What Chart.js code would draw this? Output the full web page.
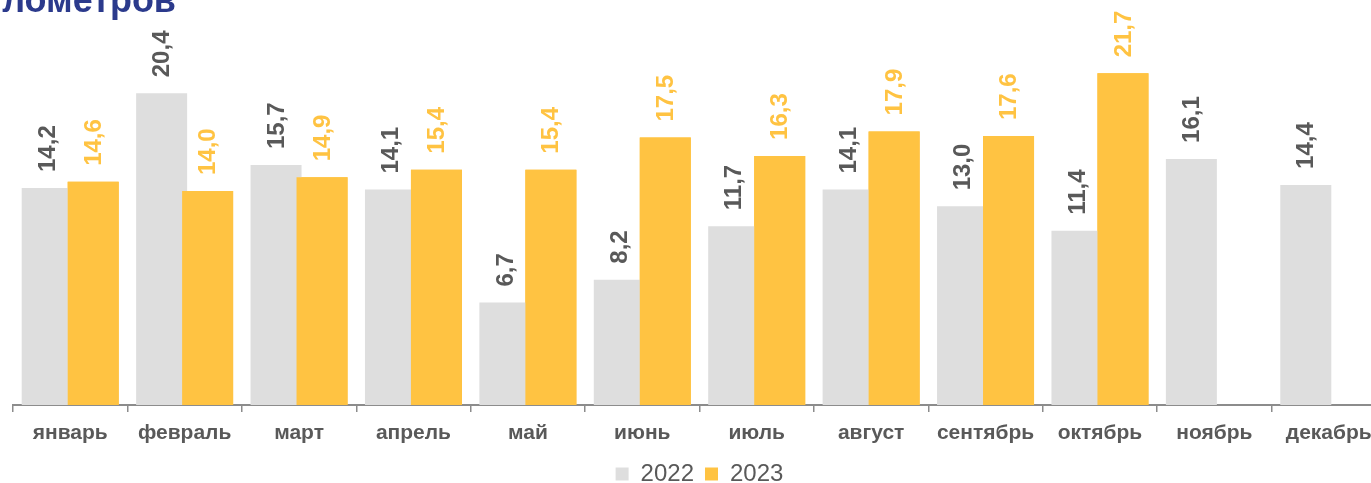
<!DOCTYPE html>
<html>
<head>
<meta charset="utf-8">
<script src="https://cdn.jsdelivr.net/npm/chart.js@4"></script>
<style>
  html, body { margin: 0; padding: 0; overflow: hidden; background: #fff; }
  #wrap { width: 1400px; height: 496px; }
</style>
</head>
<body>
<div id="wrap"><canvas id="bar-chart" width="1400" height="496"></canvas></div>
<script>
const months = ['январь', 'февраль', 'март', 'апрель', 'май', 'июнь', 'июль', 'август', 'сентябрь', 'октябрь', 'ноябрь', 'декабрь'];
const values2022 = [14.2, 20.4, 15.7, 14.1, 6.7, 8.2, 11.7, 14.1, 13.0, 11.4, 16.1, 14.4];
const values2023 = [14.6, 14.0, 14.9, 15.4, 15.4, 17.5, 16.3, 17.9, 17.6, 21.7, null, null];
const seriesNames = ['2022', '2023'];
const titleText = 'лометров';

const FONT = 'Arial, "Liberation Sans", sans-serif';
const GRAY = '#DEDEDE';
const YELLOW = '#FFC342';
const TEXT = '#595959';

const createDataset = (label, data, color, labelColor) => {
  return {
    label: label,
    data: data,
    backgroundColor: color,
    borderWidth: 0,
    labelColor: labelColor,
  };
};

// yellow bars overlap the gray ones, so paint them again on top,
// then put the rotated value labels over each bar
const valueLabels = {
  id: 'valueLabels',
  afterDatasetsDraw(chart) {
    const ctx = chart.ctx;
    ctx.save();
    chart.getDatasetMeta(1).controller.draw();
    ctx.restore();
    chart.data.datasets.forEach((ds, i) => {
      const meta = chart.getDatasetMeta(i);
      meta.data.forEach((bar, j) => {
        const v = ds.data[j];
        if (v === null || v === undefined) return;
        ctx.save();
        ctx.translate(bar.x + 1, bar.y - 16);
        ctx.rotate(-Math.PI / 2);
        ctx.font = 'bold 24px ' + FONT;
        ctx.fillStyle = ds.labelColor;
        ctx.textAlign = 'left';
        ctx.textBaseline = 'middle';
        ctx.fillText(v.toFixed(1).replace('.', ','), 0, 0);
        ctx.restore();
      });
    });
  },
};

// cut-off heading at the top left
const heading = {
  id: 'heading',
  afterDraw(chart) {
    const ctx = chart.ctx;
    ctx.save();
    ctx.font = 'bold 36px ' + FONT;
    ctx.fillStyle = '#2B3A8C';
    ctx.textAlign = 'right';
    ctx.textBaseline = 'alphabetic';
    ctx.fillText(titleText, 176, 12);
    ctx.restore();
  },
};

new Chart(document.getElementById('bar-chart'), {
  type: 'bar',
  data: {
    labels: months,
    datasets: [
      createDataset(seriesNames[0], values2022, GRAY, TEXT),
      createDataset(seriesNames[1], values2023, YELLOW, YELLOW),
    ],
  },
  options: {
    responsive: false,
    animation: false,
    categoryPercentage: 0.804,
    barPercentage: 1.109,
    layout: {
      padding: { left: 13, right: 14, top: 0, bottom: 0 },
    },
    scales: {
      x: {
        offset: true,
        grid: {
          offset: true,
          drawOnChartArea: false,
          drawTicks: true,
          tickLength: 7,
          color: '#8c8c8c',
          lineWidth: 1.5,
        },
        border: { display: true, color: '#8c8c8c', width: 2 },
        ticks: {
          color: TEXT,
          padding: 9,
          maxRotation: 0,
          autoSkip: false,
          font: { family: FONT, size: 21, weight: 'bold' },
        },
        afterFit(scale) {
          scale.height = 46;
        },
      },
      y: {
        display: false,
        min: 0,
        max: 26.5,
      },
    },
    plugins: {
      legend: {
        position: 'bottom',
        labels: {
          boxWidth: 13,
          boxHeight: 13,
          padding: 11,
          color: TEXT,
          font: { family: FONT, size: 24 },
        },
      },
      tooltip: { enabled: false },
    },
  },
  plugins: [valueLabels, heading],
});
</script>
</body>
</html>
